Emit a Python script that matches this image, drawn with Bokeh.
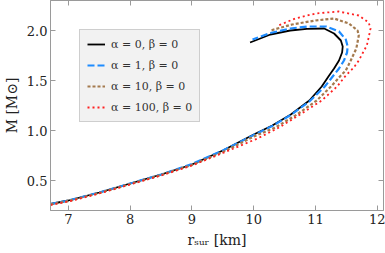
from bokeh.plotting import figure
from bokeh.models import LinearAxis, Legend, LegendItem, Range1d, PrintfTickFormatter
from bokeh.embed import file_html
from bokeh.resources import INLINE

# ---- data (R in km, M in solar masses) ----
r_a0 = [6.71, 7.0, 7.5, 8.0, 8.5, 9.0, 9.5, 10.0, 10.3, 10.6, 10.9, 11.1, 11.22, 11.30, 11.38, 11.43, 11.44,
        11.41, 11.30, 11.14, 10.86, 10.59, 10.27, 9.94]
m_a0 = [0.265, 0.30, 0.38, 0.47, 0.56, 0.66, 0.80, 0.96, 1.05, 1.16, 1.30, 1.44, 1.55, 1.62, 1.70, 1.78, 1.84,
        1.90, 1.97, 2.02, 2.017, 2.00, 1.96, 1.88]

r_a1 = [6.71, 7.0, 7.5, 8.0, 8.5, 9.0, 9.5, 10.0, 10.3, 10.6, 10.9, 11.15, 11.29, 11.38, 11.46, 11.51, 11.52,
        11.49, 11.38, 11.17, 10.87, 10.59, 10.27, 9.98]
m_a1 = [0.265, 0.30, 0.38, 0.47, 0.56, 0.665, 0.80, 0.955, 1.045, 1.155, 1.29, 1.44, 1.55, 1.62, 1.70, 1.78, 1.84,
        1.91, 1.99, 2.04, 2.04, 2.02, 1.975, 1.91]

r_a10 = [6.71, 7.0, 7.5, 8.0, 8.5, 9.0, 9.5, 10.0, 10.35, 10.7, 11.02, 11.25, 11.41, 11.49, 11.57, 11.66, 11.70,
         11.68, 11.54, 11.30, 11.0, 10.62, 10.27]
m_a10 = [0.26, 0.295, 0.375, 0.465, 0.555, 0.655, 0.785, 0.94, 1.03, 1.16, 1.30, 1.44, 1.55, 1.60, 1.70, 1.82, 1.95,
         2.00, 2.07, 2.12, 2.10, 2.06, 2.00]

r_a100 = [6.71, 7.0, 7.5, 8.0, 8.5, 9.0, 9.5, 10.06, 10.41, 10.75, 11.10, 11.35, 11.49, 11.62, 11.70, 11.76, 11.83,
          11.86, 11.89, 11.86, 11.70, 11.37, 11.0, 10.67, 10.40]
m_a100 = [0.255, 0.29, 0.37, 0.46, 0.55, 0.65, 0.775, 0.92, 1.03, 1.16, 1.30, 1.44, 1.55, 1.63, 1.70, 1.77, 1.85,
          1.93, 2.02, 2.08, 2.15, 2.19, 2.17, 2.12, 2.05]

labels = ["α = 0, β = 0", "α = 1, β = 0", "α = 10, β = 0", "α = 100, β = 0"]
x_ticks = [7, 8, 9, 10, 11, 12]
y_ticks = [0.5, 1.0, 1.5, 2.0]
x_title = "rₛᵤᵣ [km]"
y_title = "M [M⊙]"

# ---- layout ----
W, H = 385, 253
BL, BR, BT, BB = 44, 2, 0, 43
X0, X1 = 6.71, 12.1
Y0, Y1 = 0.2, 2.3

SERIF = "DejaVu Serif"
GRAY = "#9a9a9a"
TXT = "#222222"

p = figure(width=W, height=H, output_backend="svg", toolbar_location=None,
           x_range=Range1d(X0, X1), y_range=Range1d(Y0, Y1),
           min_border_left=BL, min_border_right=BR, min_border_top=BT, min_border_bottom=BB)
p.grid.visible = False
p.outline_line_color = GRAY
p.background_fill_color = "white"
p.border_fill_color = "white"


def style_axis(ax, show_labels=True):
    ax.axis_line_color = GRAY
    ax.major_tick_line_color = GRAY
    ax.minor_tick_line_color = GRAY
    ax.major_tick_in = 5
    ax.major_tick_out = 0
    ax.minor_tick_in = 3
    ax.minor_tick_out = 0
    ax.major_label_text_font = SERIF
    ax.major_label_text_color = TXT
    ax.major_label_text_font_size = "13px" if show_labels else "0px"
    ax.major_label_standoff = 3 if show_labels else 0
    ax.axis_label_text_font = SERIF
    ax.axis_label_text_font_style = "normal"
    ax.axis_label_text_font_size = "14px"
    ax.axis_label_text_color = TXT
    ax.axis_label_standoff = 5


p.xaxis.ticker = x_ticks
p.yaxis.ticker = y_ticks
p.xaxis.ticker.num_minor_ticks = 5
p.yaxis.ticker.num_minor_ticks = 5
p.yaxis.formatter = PrintfTickFormatter(format="%.1f")
style_axis(p.xaxis[0])
style_axis(p.yaxis[0])
p.xaxis.axis_label = x_title
p.yaxis.axis_label = y_title
p.yaxis.axis_label_standoff = 4

top = LinearAxis()
top.ticker = x_ticks
top.ticker.num_minor_ticks = 5
style_axis(top, False)
p.add_layout(top, "above")
right = LinearAxis()
right.ticker = y_ticks
right.ticker.num_minor_ticks = 5
style_axis(right, False)
p.add_layout(right, "right")

r0 = p.line(r_a0, m_a0, line_color="black", line_width=1.8)
r1 = p.line(r_a1, m_a1, line_color="#1e8cff", line_width=2.2, line_dash="7 3")
r2 = p.line(r_a10, m_a10, line_color="#a47a4e", line_width=2.2, line_dash="3 2")
r3 = p.line(r_a100, m_a100, line_color="#ff2020", line_width=1.8, line_dash="2 3")

legend = Legend(items=[LegendItem(label=labels[i], renderers=[r]) for i, r in enumerate([r0, r1, r2, r3])],
                location="top_left")
legend.background_fill_color = "#f2f2f2"
legend.background_fill_alpha = 1
legend.border_line_color = "#aaaaaa"
legend.label_text_font = SERIF
legend.label_text_font_size = "11px"
legend.label_text_color = "#333333"
legend.glyph_width = 18
legend.glyph_height = 14
legend.label_height = 14
legend.spacing = 7
legend.padding = 7
legend.margin = 29
legend.label_standoff = 6
p.add_layout(legend)

open("out.html", "w").write(file_html(p, INLINE))
